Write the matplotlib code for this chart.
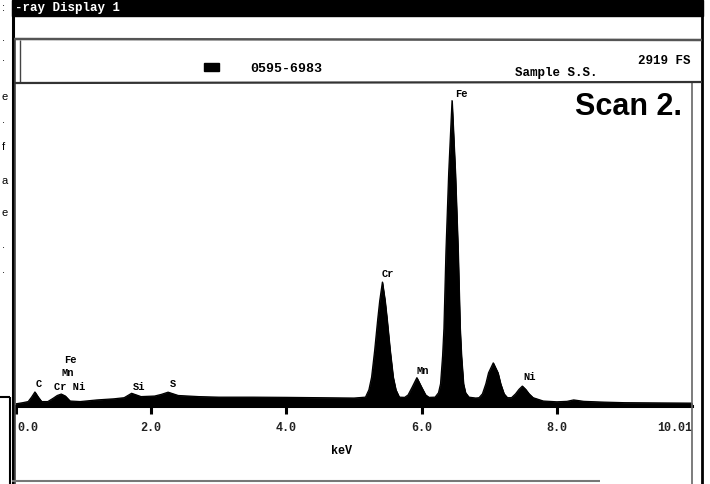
import matplotlib
matplotlib.use("Agg")
import matplotlib.pyplot as plt
from matplotlib.lines import Line2D
from matplotlib.patches import Rectangle

# spectrum trace (keV, counts; full scale 2919)
energy = [0.00, 0.10, 0.18, 0.23, 0.28, 0.33, 0.38, 0.47, 0.55, 0.61, 0.67, 0.73,
          0.80, 0.95, 1.20, 1.45, 1.60, 1.71, 1.85, 2.05, 2.15, 2.25, 2.40, 2.70,
          3.00, 3.50, 4.00, 4.50, 5.00, 5.17, 5.22, 5.26, 5.305, 5.35, 5.38, 5.42,
          5.46, 5.49, 5.535, 5.58, 5.62, 5.67, 5.75, 5.80, 5.86, 5.93, 6.00, 6.06,
          6.11, 6.20, 6.25, 6.28, 6.31, 6.33, 6.36, 6.40, 6.45, 6.50, 6.54, 6.57,
          6.59, 6.62, 6.65, 6.70, 6.80, 6.85, 6.90, 6.95, 6.99, 7.06, 7.13, 7.17,
          7.22, 7.27, 7.33, 7.39, 7.44, 7.49, 7.54, 7.59, 7.65, 7.80, 8.00, 8.15,
          8.25, 8.40, 8.70, 9.00, 9.50, 10.0]
counts = [20, 30, 40, 80, 127, 80, 40, 40, 70, 95, 108, 90,
          45, 40, 55, 65, 75, 115, 85, 90, 105, 125, 95, 85,
          80, 80, 78, 75, 72, 80, 146, 260, 500, 780, 950, 1120,
          950, 780, 500, 260, 146, 80, 78, 100, 170, 256, 170, 100,
          78, 80, 120, 200, 450, 700, 1400, 2100, 2760, 2100, 1400, 700,
          450, 200, 120, 80, 72, 75, 110, 200, 300, 390, 300, 200,
          110, 75, 75, 110, 150, 180, 150, 110, 75, 45, 38, 42,
          55, 42, 35, 30, 28, 26]
full_scale = 2919

peak_labels = ["Fe", "Cr", "Mn", "Ni", "C", "Fe", "Mn", "Cr Ni", "Si", "S"]
label_kev = [6.59, 5.50, 6.02, 7.60, 0.34, 0.80, 0.77, 0.80, 1.82, 2.32]
label_cts = [2820, 1195, 315, 262, 199, 416, 298, 172, 172, 199]

tick_kev = [0.0, 2.0, 4.0, 6.0, 8.0]
tick_text = ["0.0", "2.0", "4.0", "6.0", "8.0"]

W, H = 710, 484
mono = "Liberation Mono"


def fx(x):
    return x / W


def fy(y):
    return 1 - y / H


def seg(fig, x0, y0, x1, y1, lw=1.5, color="black"):
    fig.add_artist(Line2D([fx(x0), fx(x1)], [fy(y0), fy(y1)],
                          transform=fig.transFigure, lw=lw, color=color,
                          solid_capstyle="butt"))


fig = plt.figure(figsize=(7.1, 4.84), dpi=100)
fig.patch.set_facecolor("white")

ax = fig.add_axes([fx(16), fy(406), fx(692) - fx(16), fy(83) - fy(406)])
ax.fill_between(energy, counts, 0, color="black", lw=0.6)
ax.plot(energy, counts, color="black", lw=0.9)
ax.set_xlim(0, 10.0)
ax.set_ylim(0, full_scale)
for s in ["left", "right", "top"]:
    ax.spines[s].set_visible(False)
ax.spines["bottom"].set_linewidth(2.2)
ax.set_yticks([])
ax.set_xticks(tick_kev)
ax.set_xticklabels([])
ax.tick_params(axis="x", direction="out", length=6, width=2.2, color="black")
ax.patch.set_alpha(0)

for k, t in zip(tick_kev, tick_text):
    ax.text(k + (0.02 if k == 0 else 0), -200, t, ha="left" if k == 0 else "center",
            va="center", fontsize=8.5, family=mono, weight="bold", color="#222222")
ax.text(10.0, -200, "10.01", ha="right", va="center", fontsize=8.5, family=mono,
        weight="bold", color="#222222")

for lab, k, c in zip(peak_labels, label_kev, label_cts):
    ax.text(k, c, lab, ha="center", va="center", fontsize=7.5, family=mono,
            weight="bold", clip_on=False)

# window frame
fig.add_artist(Rectangle((fx(12), fy(16)), fx(703) - fx(12), fy(0) - fy(16),
                         transform=fig.transFigure, color="black"))
fig.text(fx(15), fy(8), "-ray Display 1", color="white", fontsize=9, family=mono,
         weight="bold", va="center", ha="left")
seg(fig, 12.5, 0, 12.5, 484, lw=2.2)
seg(fig, 15.5, 40, 15.5, 484, lw=1.2, color="#444444")
seg(fig, 702, 0, 702, 484, lw=2.0)
seg(fig, 692, 83, 692, 484, lw=1.2, color="#666666")
seg(fig, 14, 39, 702, 40, lw=1.8, color="#555555")
seg(fig, 20, 40, 20, 83, lw=1.0, color="#444444")
seg(fig, 14, 83, 702, 82, lw=1.6, color="#333333")
seg(fig, 12, 481, 600, 481, lw=1.5, color="#777777")

# header
fig.add_artist(Rectangle((fx(204), fy(71)), fx(219) - fx(204), fy(63) - fy(71),
                         transform=fig.transFigure, color="black"))
fig.text(fx(250), fy(69), "0595-6983", fontsize=9.5, family=mono, weight="bold",
         va="center", ha="left")
fig.text(fx(515), fy(73), "Sample S.S.", fontsize=9, family=mono, weight="bold",
         va="center", ha="left")
fig.text(fx(691), fy(61), "2919 FS", fontsize=9, family=mono, weight="bold",
         va="center", ha="right")
fig.text(fx(682), fy(107), "Scan 2.", fontsize=22, family="Liberation Sans",
         weight="bold", va="center", ha="right")
fig.text(fx(342), fy(451), "keV", fontsize=8.5, family=mono, weight="bold",
         va="center", ha="center")

# page fragments at the left edge
frag_y = [8, 38, 58, 97, 120, 147, 181, 213, 245, 270]
frag_t = [":", ".", ".", "e", ".", "f", "a", "e", ".", "."]
for yy, tt in zip(frag_y, frag_t):
    fig.text(fx(2), fy(yy), tt, fontsize=8, family="Liberation Sans", va="center",
             ha="left")
seg(fig, 0, 397, 10, 397, lw=1.5)
seg(fig, 10, 397, 10, 484, lw=1.5)

fig.savefig("out.png", dpi=100)
